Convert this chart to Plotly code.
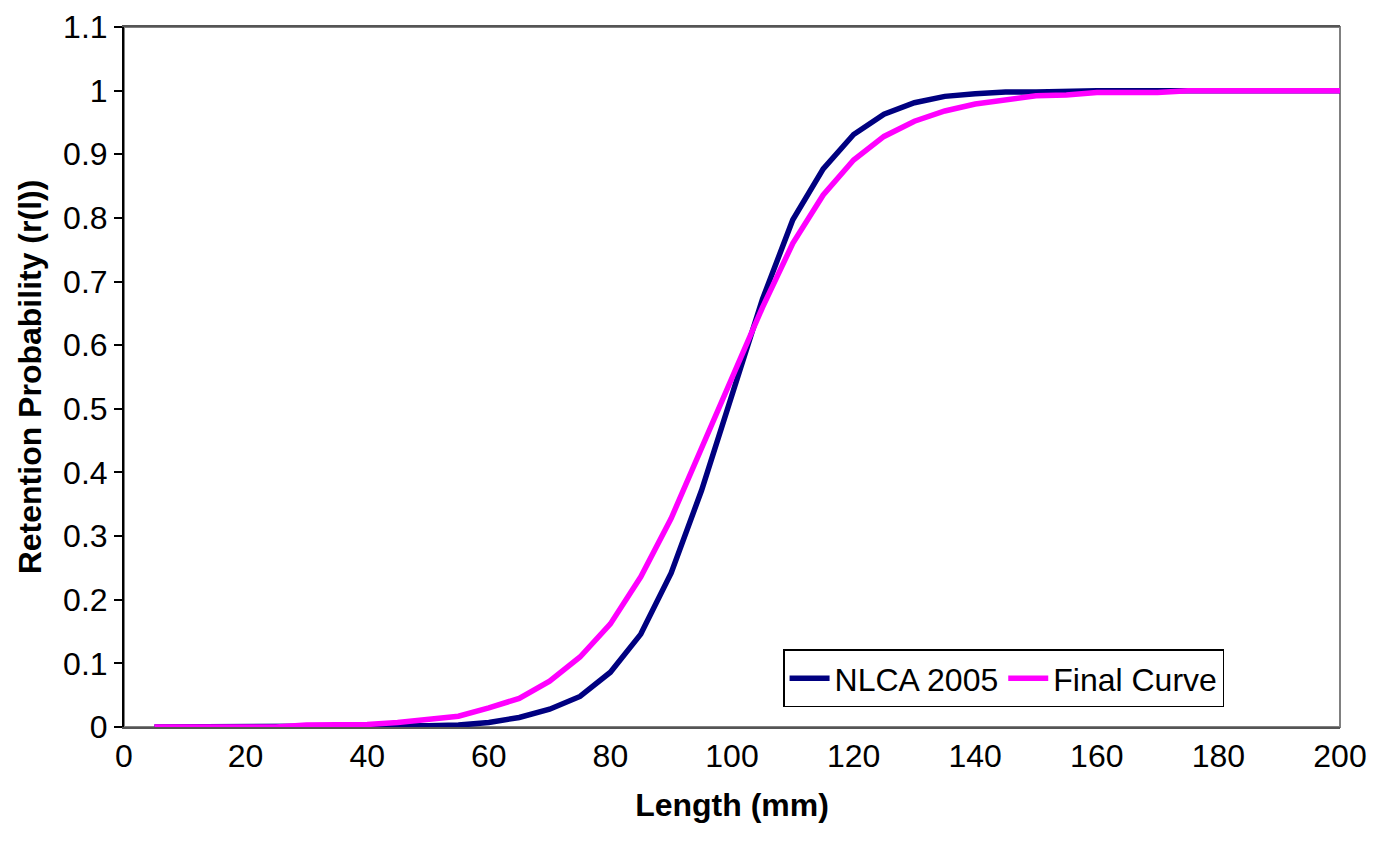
import plotly.graph_objects as go

# lengths (mm)
length = list(range(5, 205, 5))

nlca_2005 = [0, 0, 0, 0, 0, 0, 0, 0, 0.001, 0.002,
             0.003, 0.007, 0.015, 0.028, 0.048, 0.086, 0.146, 0.242, 0.372, 0.52,
             0.672, 0.797, 0.877, 0.931, 0.963, 0.981, 0.991, 0.995, 0.998, 0.998,
             1.0, 1.0, 1.0, 1.0, 1.0, 1.0, 1.0, 1.0, 1.0, 1.0]

final_curve = [0, 0, 0, 0, 0, 0.003, 0.003, 0.004, 0.007, 0.011,
               0.017, 0.03, 0.045, 0.072, 0.11, 0.162, 0.236, 0.328, 0.44, 0.552,
               0.659, 0.76, 0.836, 0.891, 0.928, 0.952, 0.968, 0.979, 0.986, 0.992,
               0.993, 0.997, 0.997, 0.997, 1.0, 1.0, 1.0, 1.0, 1.0, 1.0]

y_ticks = [0, 0.1, 0.2, 0.3, 0.4, 0.5, 0.6, 0.7, 0.8, 0.9, 1, 1.1]
y_labels = ["0", "0.1", "0.2", "0.3", "0.4", "0.5", "0.6", "0.7", "0.8", "0.9", "1", "1.1"]

font = "Liberation Sans, Arial, sans-serif"
fs = 32

fig = go.Figure()
fig.add_trace(go.Scatter(x=length, y=nlca_2005, mode="lines", name="NLCA 2005",
                         line=dict(color="#000080", width=5.5)))
fig.add_trace(go.Scatter(x=length, y=final_curve, mode="lines", name="Final Curve",
                         line=dict(color="#FF00FF", width=5.5)))

fig.update_layout(
    width=1385, height=846,
    margin=dict(l=116, r=53, t=19, b=127, autoexpand=False),
    paper_bgcolor="white", plot_bgcolor="white",
    font=dict(family=font, size=fs, color="black"),
    showlegend=True,
    legend=dict(orientation="h", x=0.542, y=0.028, xanchor="left", yanchor="bottom",
                bordercolor="black", borderwidth=1.5, bgcolor="white",
                font=dict(size=fs), itemwidth=40, tracegroupgap=0),
    xaxis=dict(range=[0, 200], dtick=20, showgrid=False, zeroline=False,
               showline=True, linecolor="#555555", linewidth=2, mirror=True,
               ticks="", tickfont=dict(size=fs), automargin=False,
               title=dict(text="<b>Length (mm)</b>", font=dict(size=fs), standoff=20)),
    yaxis=dict(range=[0, 1.1], tickvals=y_ticks, ticktext=y_labels,
               showgrid=False, zeroline=False,
               showline=True, linecolor="black", linewidth=2,
               ticks="outside", ticklen=8, tickcolor="black", tickwidth=1.5,
               tickfont=dict(size=fs), automargin=False, ticklabeloverflow="allow",
               title=dict(text="<b>Retention Probability (r(l))</b>", font=dict(size=fs), standoff=12)),
)

# grey frame on top / right like the original
fig.add_shape(type="rect", xref="paper", yref="paper", x0=0, y0=0, x1=1, y1=1,
              line=dict(color="#808080", width=2), layer="below")

fig.write_html("out.html")
